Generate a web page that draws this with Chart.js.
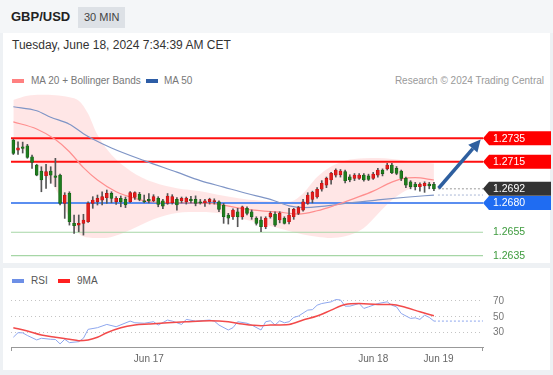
<!DOCTYPE html>
<html lang="en">
<head>
<meta charset="UTF-8">
<title>GBP/USD 30 MIN - Trading Central</title>
<script src="https://cdn.jsdelivr.net/npm/chart.js@4.4.1/dist/chart.umd.min.js"></script>
<style>
  body { margin: 0; width: 553px; height: 375px; background: #eef1f4; position: relative; overflow: hidden;
         font-family: "Liberation Sans", Arial, sans-serif; }
  #top { position: absolute; left: 0; top: 0; width: 553px; height: 33px; background: #f4f6f8; }
  #pair { position: absolute; left: 11px; top: 9px; font-size: 13px; font-weight: bold; color: #222; }
  #tf { position: absolute; left: 78px; top: 7px; height: 21px; line-height: 21px; padding: 0 6px;
        background: #dde1e6; color: #444; font-size: 11px; }
  .panel { position: absolute; left: 3px; width: 547px; background: #fff; }
  #main { top: 33px; height: 230px; }
  #sub { top: 268px; height: 102px; }
  #date { position: absolute; left: 12px; top: 38px; font-size: 12px; color: #333; }
  .lg { position: absolute; font-size: 10px; color: #777; white-space: nowrap; }
  .sw { position: absolute; height: 4px; width: 12px; }
  .box { position: absolute; left: 0; width: 553px; }
</style>
</head>
<body>
  <div id="top">
    <span id="pair">GBP/USD</span>
    <span id="tf">30 MIN</span>
  </div>
  <div class="panel" id="main"></div>
  <div class="panel" id="sub"></div>

  <div id="date">Tuesday, June 18, 2024 7:34:39 AM CET</div>

  <!-- price legend -->
  <div class="sw" style="left:12px; top:79px; background:#ff8080;"></div>
  <div class="lg" style="left:31px; top:75px;">MA 20 + Bollinger Bands</div>
  <div class="sw" style="left:146px; top:79px; background:#2d5da6;"></div>
  <div class="lg" style="left:164px; top:75px;">MA 50</div>
  <div class="lg" style="right:9px; top:75px; color:#9a9a9a;">Research © 2024 Trading Central</div>

  <!-- rsi legend -->
  <div class="sw" style="left:12px; top:279px; background:#6d8fe6;"></div>
  <div class="lg" style="left:31px; top:275px; color:#555;">RSI</div>
  <div class="sw" style="left:58px; top:279px; background:#ff2020;"></div>
  <div class="lg" style="left:77px; top:275px; color:#555;">9MA</div>

  <div class="box" style="top:88px; height:175px;"><canvas id="price"></canvas></div>
  <div class="box" style="top:279px; height:91px;"><canvas id="rsi"></canvas></div>

<script>
// 30 min candles, index 0 .. 90
const candleOpen = [
  1.27336, 1.27250, 1.27278, 1.27287, 1.27193, 1.27123, 1.27071, 1.27031, 1.27071, 1.27031,
  1.27037, 1.26796, 1.26882, 1.26626, 1.26611, 1.26626, 1.26640, 1.26796, 1.26810, 1.26824,
  1.26844, 1.26881, 1.26810, 1.26839, 1.26830, 1.26810, 1.26847, 1.26873, 1.26818, 1.26830,
  1.26818, 1.26839, 1.26818, 1.26796, 1.26801, 1.26830, 1.26818, 1.26810, 1.26830, 1.26830,
  1.26810, 1.26800, 1.26810, 1.26810, 1.26810, 1.26782, 1.26697, 1.26682, 1.26725, 1.26682,
  1.26754, 1.26725, 1.26669, 1.26654, 1.26597, 1.26682, 1.26705, 1.26654, 1.26669, 1.26640,
  1.26682, 1.26711, 1.26739, 1.26796, 1.26830, 1.26850, 1.26916, 1.26952, 1.26995, 1.27037,
  1.27040, 1.27066, 1.27023, 1.27009, 1.27009, 1.27037, 1.27030, 1.27009, 1.27037, 1.27080,
  1.27090, 1.27123, 1.27094, 1.27071, 1.27009, 1.26980, 1.26961, 1.26938, 1.26944, 1.26960,
  1.26959
];
const candleHigh = [
  1.27344, 1.27321, 1.27318, 1.27299, 1.27208, 1.27129, 1.27108, 1.27129, 1.27108, 1.27180,
  1.27046, 1.26887, 1.26895, 1.26697, 1.26697, 1.26703, 1.26810, 1.26853, 1.26867, 1.26895,
  1.26910, 1.26895, 1.26853, 1.26859, 1.26850, 1.26896, 1.26895, 1.26890, 1.26867, 1.26880,
  1.26870, 1.26853, 1.26830, 1.26880, 1.26870, 1.26845, 1.26850, 1.26850, 1.26855, 1.26860,
  1.26830, 1.26830, 1.26840, 1.26835, 1.26818, 1.26796, 1.26711, 1.26750, 1.26754, 1.26773,
  1.26767, 1.26740, 1.26682, 1.26682, 1.26682, 1.26725, 1.26725, 1.26725, 1.26682, 1.26754,
  1.26754, 1.26770, 1.26830, 1.26887, 1.26900, 1.26930, 1.26990, 1.27020, 1.27060, 1.27090,
  1.27085, 1.27080, 1.27040, 1.27050, 1.27050, 1.27050, 1.27045, 1.27060, 1.27095, 1.27090,
  1.27137, 1.27137, 1.27110, 1.27080, 1.27020, 1.26990, 1.26975, 1.26970, 1.26980, 1.26975,
  1.26975
];
const candleLow = [
  1.27212, 1.27214, 1.27225, 1.27180, 1.27094, 1.27031, 1.26895, 1.26924, 1.26967, 1.26938,
  1.26782, 1.26668, 1.26611, 1.26541, 1.26554, 1.26526, 1.26634, 1.26754, 1.26782, 1.26782,
  1.26796, 1.26801, 1.26788, 1.26767, 1.26760, 1.26805, 1.26830, 1.26818, 1.26801, 1.26800,
  1.26810, 1.26767, 1.26750, 1.26788, 1.26790, 1.26739, 1.26800, 1.26790, 1.26800, 1.26775,
  1.26790, 1.26770, 1.26790, 1.26790, 1.26725, 1.26626, 1.26620, 1.26660, 1.26597, 1.26660,
  1.26697, 1.26660, 1.26611, 1.26554, 1.26580, 1.26670, 1.26600, 1.26630, 1.26620, 1.26620,
  1.26660, 1.26700, 1.26730, 1.26788, 1.26800, 1.26840, 1.26900, 1.26930, 1.26960, 1.27020,
  1.27020, 1.26970, 1.26980, 1.26990, 1.27000, 1.26985, 1.26990, 1.27000, 1.27020, 1.27030,
  1.27080, 1.27050, 1.27040, 1.26990, 1.26930, 1.26920, 1.26910, 1.26900, 1.26890, 1.26920,
  1.26905
];
const candleClose = [
  1.27222, 1.27270, 1.27265, 1.27188, 1.27146, 1.27037, 1.26995, 1.27066, 1.27037, 1.27018,
  1.26796, 1.26867, 1.26640, 1.26606, 1.26626, 1.26654, 1.26796, 1.26824, 1.26839, 1.26853,
  1.26881, 1.26839, 1.26839, 1.26810, 1.26782, 1.26887, 1.26887, 1.26830, 1.26810, 1.26818,
  1.26853, 1.26788, 1.26773, 1.26859, 1.26853, 1.26782, 1.26839, 1.26839, 1.26818, 1.26796,
  1.26800, 1.26818, 1.26830, 1.26820, 1.26745, 1.26682, 1.26669, 1.26739, 1.26682, 1.26767,
  1.26711, 1.26682, 1.26626, 1.26597, 1.26669, 1.26711, 1.26611, 1.26711, 1.26626, 1.26697,
  1.26745, 1.26760, 1.26810, 1.26867, 1.26890, 1.26916, 1.26967, 1.27009, 1.27052, 1.27080,
  1.27071, 1.26989, 1.26995, 1.27037, 1.27037, 1.26995, 1.27000, 1.27046, 1.27080, 1.27050,
  1.27123, 1.27057, 1.27052, 1.27009, 1.26952, 1.26938, 1.26938, 1.26959, 1.26967, 1.26944,
  1.26920
];

// Bollinger bands (read at these candle indexes)
const bbIdx   = [0, 3, 6, 9, 12, 14, 16, 18, 21, 25, 30, 35, 40, 45, 50, 55, 59, 62, 65, 68, 71, 75, 78, 81, 84, 87, 90];
const bbUpper = [1.27676, 1.27712, 1.27722, 1.27718, 1.27700, 1.27670, 1.27560, 1.27380, 1.27210, 1.27075,
                 1.26975, 1.26925, 1.26900, 1.26860, 1.26830, 1.26815, 1.26810, 1.26880, 1.27020, 1.27110,
                 1.27160, 1.27180, 1.27182, 1.27175, 1.27160, 1.27148, 1.27135];
const bbLower = [1.27306, 1.27230, 1.27080, 1.26920, 1.26670, 1.26540, 1.26505, 1.26500, 1.26510, 1.26569,
                 1.26660, 1.26715, 1.26722, 1.26705, 1.26654, 1.26603, 1.26560, 1.26530, 1.26512, 1.26501,
                 1.26515, 1.26586, 1.26705, 1.26824, 1.26905, 1.26945, 1.26944];

const ma20Idx = [0, 5, 9, 12, 15, 18, 22, 26, 29, 35, 42, 50, 58, 61, 65, 69, 73, 77, 80, 83, 86, 90];
const ma20Val = [1.27491, 1.27430, 1.27340, 1.27236, 1.27100, 1.26995, 1.26895, 1.26839, 1.26812, 1.26801,
                 1.26796, 1.26745, 1.26716, 1.26705, 1.26733, 1.26782, 1.26839, 1.26900, 1.26960, 1.27005,
                 1.27015, 1.26995];

const ma50Idx = [0, 5, 8, 12, 15, 17, 21, 28, 35, 40, 45, 50, 55, 59, 62, 66, 72, 78, 84, 90];
const ma50Val = [1.27619, 1.27585, 1.27530, 1.27470, 1.27390, 1.27345, 1.27268, 1.27160, 1.27062, 1.26990,
                 1.26935, 1.26880, 1.26830, 1.26775, 1.26760, 1.26770, 1.26800, 1.26825, 1.26848, 1.26867];

// support / resistance levels shown on the right
const levelValues = [1.2735, 1.2715, 1.2692, 1.2680, 1.2655, 1.2635];
const levelKinds  = ['res', 'res', 'last', 'pivot', 'sup', 'sup'];

// target arrow: from [index, price] to [index, price]
const arrowFrom = [91, 1.26925];
const arrowTo   = [100, 1.27340];

// RSI and its 9 period average
const rsiIdx = [0, 1, 2, 3, 5, 6, 8, 9, 10, 11, 12, 14, 15, 16, 18, 20, 22, 25, 26, 28,
                30, 31, 33, 34, 36, 37, 39, 42, 43, 44, 46, 47, 48, 50, 51, 53, 54, 55, 56, 57,
                58, 59, 60, 61, 63, 64, 65, 66, 68, 69, 70, 71, 72, 74, 75, 76, 78, 80, 81, 82,
                83, 85, 86, 87, 88, 89, 90];
const rsiVal = [24.3, 30.0, 29.8, 26.5, 20.9, 23.0, 21.7, 21.5, 15.9, 21.7, 17.5, 18.7, 23.0, 34.2, 36.3, 40.4, 37.5, 44.6, 42.5, 41.9,
                43.8, 39.6, 45.9, 44.6, 40.4, 46.7, 44.6, 45.9, 44.6, 39.6, 33.4, 36.3, 43.8, 41.9, 39.6, 33.4, 43.8, 45.0, 39.6, 45.0,
                42.5, 43.8, 49.2, 50.9, 58.4, 59.0, 64.6, 66.7, 68.8, 71.7, 71.2, 63.4, 63.4, 66.7, 60.5, 62.5, 66.7, 68.8, 64.6, 62.5,
                54.2, 48.0, 48.7, 46.7, 52.1, 49.2, 44.6];
const ma9Idx = [0, 3, 6, 9, 12, 14, 16, 18, 20, 23, 26, 29, 33, 37, 42, 46, 49, 53, 55, 59, 62, 65, 68, 71, 74, 78, 81, 84, 87, 90];
const ma9Val = [36.3, 32.1, 27.1, 24.2, 21.7, 20.0, 20.9, 24.2, 30.0, 36.3, 39.6, 40.9, 42.5, 43.8, 45.0, 43.8, 40.9, 38.8, 39.6, 40.4,
                45.9, 50.9, 58.4, 65.5, 66.7, 65.5, 65.5, 61.7, 56.3, 51.2];
const rsiLevels = [30, 50, 70];

// x axis: slot range and date ticks
const xMin = -0.5, xMax = 100.5;
const xTickIdx  = [29, 77, 91];
const xTickText = ['Jun 17', 'Jun 18', 'Jun 19'];

const priceMin = 1.26288, priceMax = 1.27779;
const rsiMin = 12, rsiMax = 90;

const FONT = '"Liberation Sans", Arial, sans-serif';
const pts = (idx, vals) => idx.map((x, i) => ({ x: x, y: vals[i] }));
const up = candleOpen.map((o, i) => candleClose[i] >= o);

// level lines under the candles, tags / arrow on top
const levelsPlugin = {
  id: 'levels',
  beforeDatasetDraw(chart, args) {
    if (chart.data.datasets[args.index].label !== 'MA 50') return;
    const { ctx, chartArea: a, scales: { y } } = chart;
    ctx.save();
    levelValues.forEach((v, i) => {
      const k = levelKinds[i];
      if (k === 'last') return;
      const py = y.getPixelForValue(v);
      ctx.beginPath();
      if (k === 'res') { ctx.strokeStyle = '#ff1010'; ctx.lineWidth = 2; }
      else if (k === 'pivot') { ctx.strokeStyle = '#5b8ef0'; ctx.lineWidth = 2; }
      else { ctx.strokeStyle = '#a6d6a6'; ctx.lineWidth = 1.2; }
      ctx.moveTo(a.left, py); ctx.lineTo(a.right, py); ctx.stroke();
    });
    ctx.restore();
  },
  afterDraw(chart) {
    const { ctx, chartArea: a, scales: { x, y } } = chart;
    const lastX = x.getPixelForValue(candleClose.length - 1) + 4;
    ctx.save();
    // dotted extensions: last price and MA 50
    ctx.setLineDash([2, 2]);
    ctx.lineWidth = 1;
    ctx.strokeStyle = '#9a9a9a';
    let py = y.getPixelForValue(levelValues[levelKinds.indexOf('last')]);
    ctx.beginPath(); ctx.moveTo(lastX, py); ctx.lineTo(a.right, py); ctx.stroke();
    ctx.strokeStyle = '#a9b7d6';
    py = y.getPixelForValue(ma50Val[ma50Val.length - 1]);
    ctx.beginPath(); ctx.moveTo(lastX, py); ctx.lineTo(a.right, py); ctx.stroke();
    ctx.setLineDash([]);

    // tags
    ctx.font = '10.5px ' + FONT;
    ctx.textBaseline = 'middle';
    levelValues.forEach((v, i) => {
      const k = levelKinds[i];
      const ty = y.getPixelForValue(v);
      const x0 = a.right;
      const label = v.toFixed(4);
      if (k === 'sup') {
        ctx.fillStyle = '#3e9b3e';
        ctx.fillText(label, x0 + 10, ty);
        return;
      }
      ctx.fillStyle = k === 'res' ? '#ff0000' : (k === 'last' ? '#333333' : '#1f6cf2');
      ctx.beginPath();
      ctx.moveTo(x0, ty);
      ctx.lineTo(x0 + 6, ty - 7);
      ctx.lineTo(chart.width - 2, ty - 7);
      ctx.lineTo(chart.width - 2, ty + 7);
      ctx.lineTo(x0 + 6, ty + 7);
      ctx.closePath();
      ctx.fill();
      ctx.fillStyle = '#ffffff';
      ctx.fillText(label, x0 + 10, ty + 0.5);
    });

    // target arrow
    const x1 = x.getPixelForValue(arrowFrom[0]), y1 = y.getPixelForValue(arrowFrom[1]);
    const x2 = x.getPixelForValue(arrowTo[0]), y2 = y.getPixelForValue(arrowTo[1]);
    const ang = Math.atan2(y2 - y1, x2 - x1);
    const head = 12;
    const bx = x2 - Math.cos(ang) * head, by = y2 - Math.sin(ang) * head;
    ctx.strokeStyle = '#2e5f9f';
    ctx.fillStyle = '#2e5f9f';
    ctx.lineWidth = 3.5;
    ctx.beginPath(); ctx.moveTo(x1, y1); ctx.lineTo(bx, by); ctx.stroke();
    ctx.beginPath();
    ctx.moveTo(x2, y2);
    ctx.lineTo(bx + Math.sin(ang) * 6, by - Math.cos(ang) * 6);
    ctx.lineTo(bx - Math.sin(ang) * 6, by + Math.cos(ang) * 6);
    ctx.closePath();
    ctx.fill();
    ctx.restore();
  }
};

new Chart(document.getElementById('price'), {
  type: 'bar',
  data: {
    datasets: [
      {
        label: 'bodies', type: 'bar', order: 1, grouped: false, barThickness: 3,
        data: candleOpen.map((o, i) => ({ x: i, y: [o, candleClose[i]] })),
        backgroundColor: up.map(u => u ? '#e31c1c' : '#1e7d1e'),
        borderColor: up.map(u => u ? '#b51212' : '#135c13'),
        borderWidth: 0.6, borderSkipped: false
      },
      {
        label: 'wicks', type: 'bar', order: 2, grouped: false, barThickness: 1,
        data: candleLow.map((l, i) => ({ x: i, y: [l, candleHigh[i]] })),
        backgroundColor: '#555'
      },
      {
        label: 'MA 20', type: 'line', order: 5, data: pts(ma20Idx, ma20Val),
        borderColor: '#ff8f8f', borderWidth: 1.2, pointRadius: 0, cubicInterpolationMode: 'monotone', fill: false
      },
      {
        label: 'MA 50', type: 'line', order: 6, data: pts(ma50Idx, ma50Val),
        borderColor: '#7f95c6', borderWidth: 1.2, pointRadius: 0, cubicInterpolationMode: 'monotone', fill: false
      },
      {
        label: 'BB upper', type: 'line', order: 10, data: pts(bbIdx, bbUpper),
        borderWidth: 0, borderColor: 'rgba(0,0,0,0)', pointRadius: 0, cubicInterpolationMode: 'monotone', fill: false
      },
      {
        label: 'BB lower', type: 'line', order: 9, data: pts(bbIdx, bbLower),
        borderWidth: 0, borderColor: 'rgba(0,0,0,0)', pointRadius: 0, cubicInterpolationMode: 'monotone',
        fill: '-1', backgroundColor: 'rgba(255, 60, 60, 0.13)'
      }
    ]
  },
  options: {
    responsive: true, maintainAspectRatio: false, animation: false,
    layout: { padding: { left: 11, right: 70, top: 0, bottom: 0 } },
    plugins: { legend: { display: false }, tooltip: { enabled: false } },
    scales: {
      x: { type: 'linear', min: xMin, max: xMax, offset: false, display: false },
      y: { type: 'linear', min: priceMin, max: priceMax, beginAtZero: false, display: false }
    }
  },
  plugins: [levelsPlugin]
});

// small end marks on the RSI time axis
const axisEnds = {
  id: 'axisEnds',
  afterDraw(chart) {
    const { ctx, chartArea: a } = chart;
    ctx.save();
    ctx.strokeStyle = '#999';
    ctx.lineWidth = 1;
    [a.left + 0.5, a.right - 0.5].forEach(px => {
      ctx.beginPath(); ctx.moveTo(px, a.bottom); ctx.lineTo(px, a.bottom + 4); ctx.stroke();
    });
    ctx.restore();
  }
};

const lastRsi = rsiVal[rsiVal.length - 1];
new Chart(document.getElementById('rsi'), {
  type: 'line',
  data: {
    datasets: [
      {
        label: '9MA', data: pts(ma9Idx, ma9Val), order: 1,
        borderColor: '#f24a4a', borderWidth: 1.5, pointRadius: 0, cubicInterpolationMode: 'monotone'
      },
      {
        label: 'RSI', data: pts(rsiIdx, rsiVal), order: 2,
        borderColor: '#8ea7ee', borderWidth: 1, pointRadius: 0, tension: 0
      },
      {
        label: 'RSI now', data: [{ x: rsiIdx[rsiIdx.length - 1], y: lastRsi }, { x: xMax, y: lastRsi }], order: 3,
        borderColor: '#8ea7ee', borderWidth: 1, borderDash: [2, 2], pointRadius: 0
      }
    ]
  },
  options: {
    responsive: true, maintainAspectRatio: false, animation: false,
    layout: { padding: { left: 11, right: 0, top: 6, bottom: 3 } },
    plugins: { legend: { display: false }, tooltip: { enabled: false } },
    scales: {
      x: {
        type: 'linear', min: xMin, max: xMax, offset: false,
        grid: { display: false, drawTicks: false },
        border: { display: true, color: '#999', width: 1 },
        afterBuildTicks: s => { s.ticks = xTickIdx.map(v => ({ value: v })); },
        afterFit: s => { s.height = 20; },
        ticks: {
          autoSkip: false, maxRotation: 0, padding: 6, color: '#666',
          font: { size: 10, family: FONT },
          callback: v => { const i = xTickIdx.indexOf(v); return i < 0 ? '' : xTickText[i]; }
        }
      },
      y: {
        type: 'linear', position: 'right', min: rsiMin, max: rsiMax,
        afterBuildTicks: s => { s.ticks = rsiLevels.map(v => ({ value: v })); },
        afterFit: s => { s.width = 70; },
        grid: { color: '#c4c4c4', lineWidth: 1, drawTicks: true, tickLength: 10, tickColor: 'rgba(0,0,0,0)' },
        border: { display: false, dash: [1, 3] },
        ticks: { padding: 0, color: '#777', font: { size: 10, family: FONT } }
      }
    }
  },
  plugins: [axisEnds]
});
</script>
</body>
</html>
